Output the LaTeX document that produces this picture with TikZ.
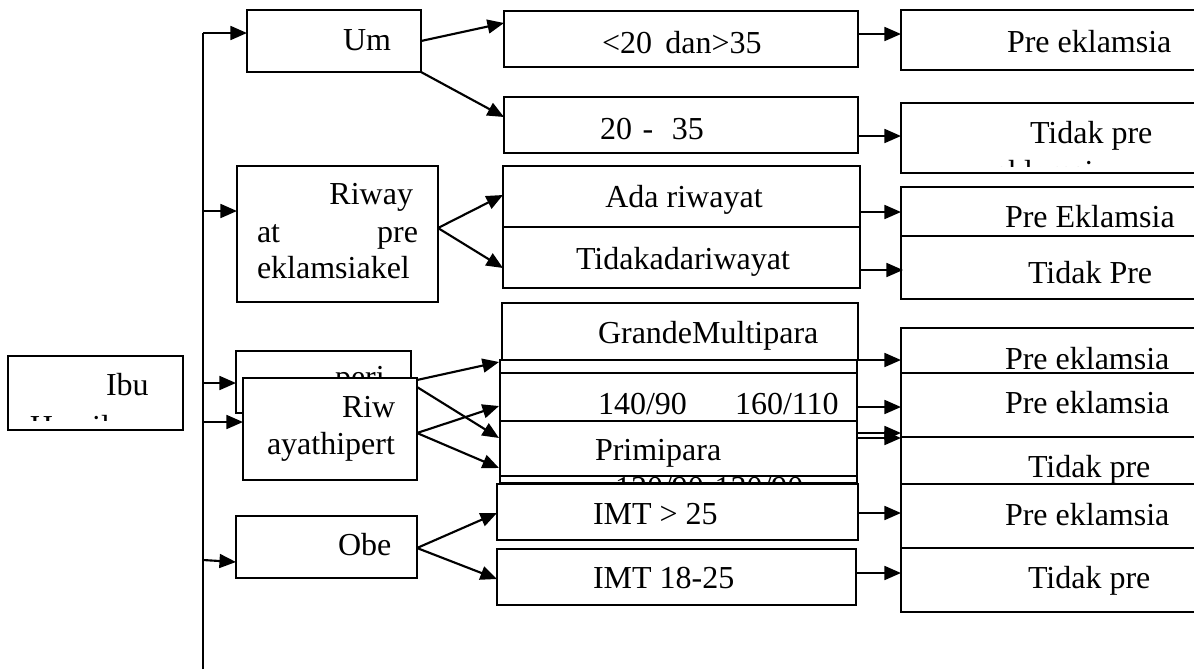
\documentclass[tikz,border=0pt]{standalone}
\usepackage{fontspec}
\setmainfont{Liberation Serif}
\usetikzlibrary{arrows.meta,fit}
\begin{document}
\begin{tikzpicture}[x=0.375pt,y=-0.375pt,
  box/.style={draw, line width=0.8pt, inner sep=0pt, outer sep=0pt},
  wbox/.style={box, fill=white},
  ln/.style={line width=0.8pt},
  arr/.style={line width=0.8pt, -{Triangle[length=6.2pt,width=5.2pt]}},
  txt/.style={inner sep=0pt, outer sep=0pt, font=\fontsize{12}{14}\selectfont}]
\useasboundingbox (0,0) rectangle (1194,669);
\clip (0,0) rectangle (1194,669);

% ---- boxes, first layer
\node[box, fit={(247,10) (421,72)}] (um) {};
\node[box, fit={(504,11) (858,67)}] (a1) {};
\node[box, fit={(504,97) (858,153)}] (a2) {};
\node[box, fit={(901,10) (1200,70)}] (r1) {};
\node[box, fit={(901,103) (1200,173)}] (r2) {};
\node[box, fit={(237,166) (438,302)}] (rw) {};
\node[box, fit={(503,166) (860,227)}] (b1) {};
\node[box, fit={(503,227) (860,288)}] (b2) {};
\node[box, fit={(901,187) (1200,236)}] (r3) {};
\node[box, fit={(901,236) (1200,299)}] (r4) {};
\node[box, fit={(8,356) (183,430)}] (ibu) {};
\node[box, fit={(236,351) (411,413)}] (peri) {};
\node[box, fit={(236,516) (417,578)}] (obe) {};
\node[box, fit={(502,303) (858,360)}] (gm) {};
\node[box, fit={(500,360) (857,483)}] (hid) {};
\node[box, fit={(901,328) (1200,373)}] (r5) {};
\node[box, fit={(901,373) (1200,437)}] (r6) {};
\node[box, fit={(901,437) (1200,484)}] (r7) {};
\node[box, fit={(901,484) (1200,548)}] (r8) {};
\node[box, fit={(901,548) (1200,612)}] (r9) {};
\node[box, fit={(497,549) (856,605)}] (imtb) {};

% ---- texts
\node[txt, anchor=base west] (tum) at (343,50) {Um};
\node[txt, anchor=base west] (ta1) at (602,53) {<20\hspace{5pt}dan>35};
\node[txt, anchor=base west] (ta2) at (600,139) {20\hspace{4pt}-\hspace{7pt}35};
\node[txt, anchor=base west] (tr1) at (1007,52) {Pre eklamsia};
\node[txt, anchor=base west] (tr2) at (1030,143) {Tidak pre};
\begin{scope}
  \clip (901,103) rectangle (1200,166);
  \node[txt, anchor=base west] (tr2b) at (994,182) {eklamsia};
\end{scope}
\node[txt, anchor=base east] (trw1) at (413,204) {Riway};
\node[txt, anchor=base west] (trw2) at (257,242) {at};
\node[txt, anchor=base east] (trw3) at (418,242) {pre};
\node[txt, anchor=base west] (trw4) at (257,278) {eklamsiakel};
\node[txt, anchor=base] (tb1) at (684,207) {Ada riwayat};
\node[txt, anchor=base] (tb2) at (683,269) {Tidakadariwayat};
\node[txt, anchor=base west] (tr3) at (1005,227) {Pre Eklamsia};
\node[txt, anchor=base west] (tr4) at (1028,283) {Tidak Pre};
\node[txt, anchor=base west] (tibu) at (106,395) {Ibu};
\begin{scope}
  \clip (8,356) rectangle (183,420);
  \node[txt, anchor=base west] (tham) at (30,437) {Hamil};
\end{scope}
\node[txt, anchor=base west] (tperi) at (335,387) {peri};
\node[txt, anchor=base west] (tgm) at (598,343) {GrandeMultipara};
\begin{scope}
  \clip (500,476) rectangle (857,484);
  \node[txt, anchor=base west] (thid) at (615,498) {120/90-130/90};
\end{scope}
\node[txt, anchor=base west] (tobe) at (338,555) {Obe};
\node[txt, anchor=base west] (timtb) at (593,588) {IMT 18-25};
\node[txt, anchor=base west] (tr5) at (1005,369) {Pre eklamsia};
\node[txt, anchor=base west] (tr6) at (1005,413) {Pre eklamsia};
\node[txt, anchor=base west] (tr7) at (1028,477) {Tidak pre};
\node[txt, anchor=base west] (tr8) at (1005,525) {Pre eklamsia};
\node[txt, anchor=base west] (tr9) at (1028,588) {Tidak pre};

% ---- overlapping front boxes
\node[wbox, fit={(243,378) (417,480)}] (rwh) {};
\node[txt, anchor=base west] (trwh1) at (342,417) {Riw};
\node[txt, anchor=base west] (trwh2) at (267,454) {ayathipert};
\node[wbox, fit={(500,373) (857,440)}] (c140) {};
\node[txt, anchor=base west] (tc1) at (598,414) {140/90};
\node[txt, anchor=base west] (tc2) at (735,414) {160/110};
\node[wbox, fit={(500,421) (857,476)}] (prim) {};
\node[txt, anchor=base west] (tprim) at (595,460) {Primipara};
\node[wbox, fit={(497,484) (858,540)}] (imta) {};
\node[txt, anchor=base west] (timta) at (593,524) {IMT > 25};

% ---- trunk and connectors
\coordinate (t0) at (203,33);
\coordinate (tend) at (203,669);
\coordinate (t1) at (203,211);
\coordinate (t2) at (203,383);
\coordinate (t3) at (203,422);
\coordinate (t4) at (203,560);
\draw[ln] (tend) -- (t0);
\draw[arr] (t0) -- (um.west |- t0);
\draw[arr] (t1) -- (rw.west |- t1);
\draw[arr] (t2) -- (peri.west |- t2);
\draw[arr] (t3) -- (rwh.west |- t3);
\draw[arr] (t4) -- (obe.west |- 236,562);

\draw[arr] (um.east |- 0,41) -- (a1.west |- 0,23);
\draw[arr] (um.south east) -- (a2.west |- 0,117);
\draw[arr] (a1.east |- 852,34) -- (r1.west |- 0,34);
\draw[arr] (a2.east |- 0,136) -- (r2.west |- 0,136);

\draw[arr] (rw.east |- 0,228) -- (b1.west |- 0,195);
\draw[arr] (rw.east |- 0,228) -- (b2.west |- 0,268);
\draw[arr] (b1.east |- 0,212) -- (r3.west |- 0,212);
\draw[arr] (b2.east |- 0,270) -- (903,270);

\draw[arr] (rwh.east |- 0,380) -- (499,362);
\draw[arr] (rwh.east |- 0,387) -- (499,438);
\draw[arr] (rwh.east |- 0,433) -- (499,406);
\draw[arr] (rwh.east |- 0,433) -- (499,468);

\draw[arr] (gm.south east) -- (r5.west |- 0,360);
\draw[arr] (c140.east |- 0,407) -- (r6.west |- 0,407);
\draw[arr] (prim.east |- 0,433) -- (r6.west |- 0,433);
\draw[arr] (prim.east |- 0,438) -- (r7.west |- 0,438);
\draw[arr] (imta.east |- 0,513) -- (r8.west |- 0,513);
\draw[arr] (imtb.east |- 854,573) -- (r9.west |- 0,573);

\draw[arr] (obe.east |- 0,548) -- (imta.west |- 0,513);
\draw[arr] (obe.east |- 0,548) -- (imtb.west |- 0,579);
\end{tikzpicture}
\end{document}
